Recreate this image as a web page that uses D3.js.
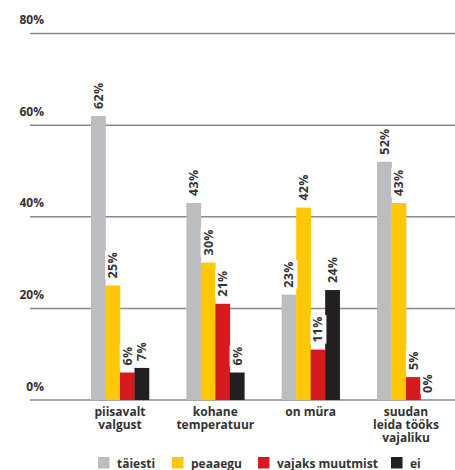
<!DOCTYPE html>
<html>
<head>
<meta charset="utf-8">
<script src="https://cdn.jsdelivr.net/npm/d3@7/dist/d3.min.js"></script>
<style>
  html, body { margin: 0; padding: 0; background: #fff; }
  svg { display: block; font-family: "Open Sans", sans-serif; }
</style>
</head>
<body>
<div id="chart"></div>
<script>
// Question categories (multi-line labels)
const categories = [
  ["piisavalt", "valgust"],
  ["kohane", "temperatuur"],
  ["on müra"],
  ["suudan", "leida tööks", "vajaliku"]
];
const seriesNames = ["täiesti", "peaaegu", "vajaks muutmist", "ei"];
const seriesColors = ["#bcbdc0", "#fec70a", "#d71920", "#231f20"];

// Percentages per series, in category order
const taiesti = [62, 43, 23, 52];
const peaaegu = [25, 30, 42, 43];
const vajaksMuutmist = [6, 21, 11, 5];
const ei = [7, 6, 24, 0];

const yTicks = [0, 20, 40, 60, 80];

const series = [taiesti, peaaegu, vajaksMuutmist, ei];

const W = 455, H = 470;
const svg = d3.select("#chart").append("svg").attr("width", W).attr("height", H);

const y = d3.scaleLinear().domain([0, 80]).range([400, 33.5]);
const x0 = d3.scaleBand().domain(d3.range(categories.length)).range([91, 435]).paddingInner(0.392).paddingOuter(0);
const x1 = d3.scaleBand().domain(d3.range(series.length)).range([0, x0.bandwidth()]);

const textColor = "#333";

// Horizontal gridlines with value labels
const grid = svg.append("g");
grid.selectAll("line").data(yTicks).join("line")
  .attr("x1", 30).attr("x2", W)
  .attr("y1", d => y(d)).attr("y2", d => y(d))
  .attr("stroke", "#8a8a8a").attr("stroke-width", 1.5);
grid.selectAll("text").data(yTicks).join("text")
  .attr("x", 44).attr("y", d => y(d) - 9.5)
  .attr("text-anchor", "end")
  .attr("font-size", 12).attr("font-weight", 700)
  .attr("fill", textColor)
  .text(d => d + "%");

// Bars
const flat = [];
categories.forEach((c, i) => series.forEach((s, j) => flat.push({ i, j, v: s[i] })));

svg.append("g").selectAll("rect").data(flat).join("rect")
  .attr("x", d => x0(d.i) + x1(d.j))
  .attr("width", x1.bandwidth() + 0.3)
  .attr("y", d => y(d.v))
  .attr("height", d => y(0) - y(d.v))
  .attr("fill", d => seriesColors[d.j]);

// Rotated value labels above each bar (white box keeps gridlines from crossing text)
const lbl = svg.append("g").selectAll("g").data(flat).join("g")
  .attr("transform", d => `translate(${x0(d.i) + x1(d.j) + x1.bandwidth() / 2 + 4.5},${y(d.v) - 7}) rotate(-90)`);
lbl.append("text")
  .attr("font-size", 12.5).attr("font-weight", 700)
  .attr("fill", textColor)
  .attr("letter-spacing", 0.3)
  .text(d => d.v + "%");
lbl.each(function() {
  const g = d3.select(this);
  const bb = g.select("text").node().getBBox();
  g.insert("rect", "text")
    .attr("x", bb.x - 1).attr("y", bb.y + 1)
    .attr("width", bb.width + 2).attr("height", bb.height - 1)
    .attr("fill", "#fff");
});

// Category labels, one text per line
const catLines = [];
categories.forEach((lines, i) => lines.forEach((t, k) => catLines.push({ i, k, t })));
svg.append("g").selectAll("text").data(catLines).join("text")
  .attr("x", d => x0(d.i) + x0.bandwidth() / 2)
  .attr("y", d => 416 + d.k * 13)
  .attr("text-anchor", "middle")
  .attr("font-size", 12).attr("font-weight", 700)
  .attr("fill", textColor)
  .text(d => d.t);

// Legend
const legendX = [98, 172, 258, 391];
const leg = svg.append("g").selectAll("g").data(seriesNames).join("g")
  .attr("transform", (d, i) => `translate(${legendX[i]},457)`);
leg.append("rect").attr("width", 11.5).attr("height", 11.5)
  .attr("fill", (d, i) => seriesColors[i]);
leg.append("text").attr("x", 19).attr("y", 10.5)
  .attr("font-size", 12).attr("font-weight", 700)
  .attr("fill", textColor)
  .text(d => d);
</script>
</body>
</html>
